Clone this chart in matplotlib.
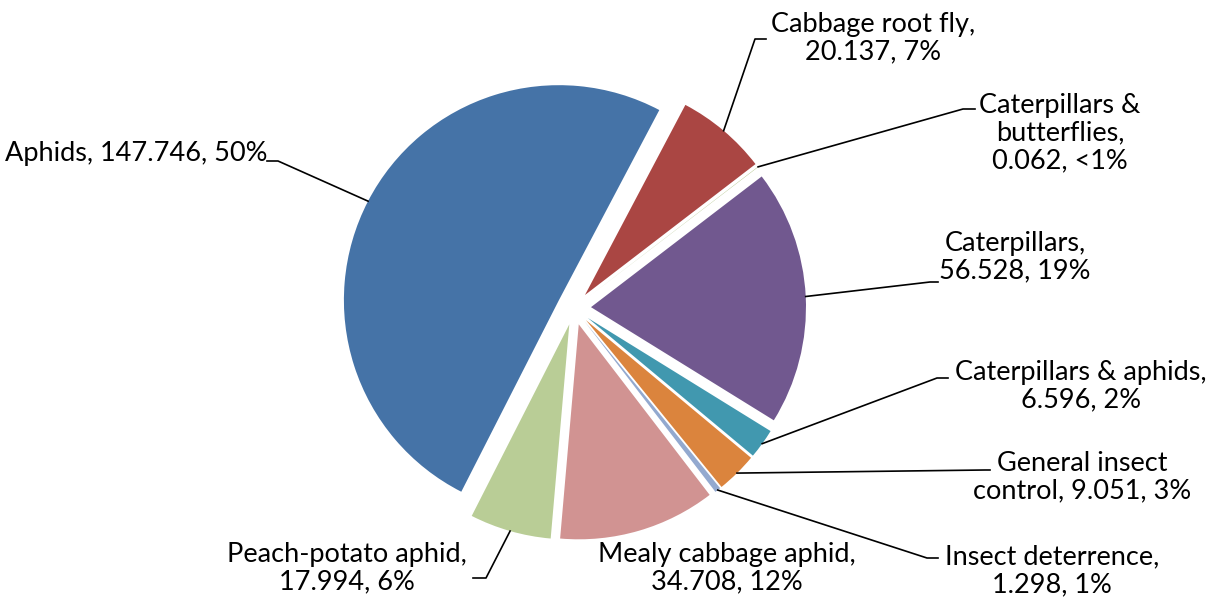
import textwrap
import numpy as np
import matplotlib
matplotlib.use("Agg")
import matplotlib.pyplot as plt

# data
categories = ["Aphids", "Cabbage root fly", "Caterpillars & butterflies", "Caterpillars",
              "Caterpillars & aphids", "General insect control", "Insect deterrence",
              "Mealy cabbage aphid", "Peach-potato aphid"]
values = [147.746, 20.137, 0.062, 56.528, 6.596, 9.051, 1.298, 34.708, 17.994]
pct_labels = ["50%", "7%", "<1%", "19%", "2%", "3%", "1%", "12%", "6%"]
colors = ["#4573A7", "#AA4643", "#89A54E", "#71588F", "#4198AF",
          "#DB843D", "#93A9CF", "#D19392", "#B9CD96"]

W, H = 1228, 598

# label layout, in image pixels (y down): text centre, leader elbow, leader end, wrap width
label_pos = [(136, 153), (873, 38), (1060, 133), (1015, 257), (1081, 386),
             (1082, 477), (1052, 571), (727, 568), (347, 568)]
elbows = [(278, 161), (755, 39), (963, 109), (930, 282), (937, 378),
          (985, 470), (927, 558), None, (486, 578)]
ends = [267, 766, 975, 938, 948, 990, 938, None, 473]
wraps = [40, 18, 15, 14, 22, 20, 19, 20, 19]

plt.rcParams['font.family'] = ['Lato', 'DejaVu Sans']

fig = plt.figure(figsize=(W / 100, H / 100), dpi=100)
ax = fig.add_axes([0, 0, 1, 1])

# explode is in data units here (pixels)
wedges, _ = ax.pie(values, colors=colors, explode=[17] * len(values),
                   center=(574, H - 308), radius=215, startangle=243,
                   counterclock=False, wedgeprops=dict(linewidth=0))
ax.set_xlim(0, W)
ax.set_ylim(0, H)
ax.axis("off")

for i, w in enumerate(wedges):
    txt = f"{categories[i]}, {values[i]:.3f}, {pct_labels[i]}"
    txt = textwrap.fill(txt, wraps[i], break_on_hyphens=False)
    tx, ty = label_pos[i]
    ax.text(tx, H - ty, txt, ha="center", va="center", multialignment="center",
            fontsize=19.5, color="black", linespacing=1.12)
    if elbows[i] is None:
        continue
    mid = np.deg2rad((w.theta1 + w.theta2) / 2)
    sx = w.center[0] + w.r * np.cos(mid)
    sy = w.center[1] + w.r * np.sin(mid)
    ex, ey = elbows[i]
    ax.plot([sx, ex, ends[i]], [sy, H - ey, H - ey], color="black", lw=1.2)

fig.savefig("out.png", dpi=100)
